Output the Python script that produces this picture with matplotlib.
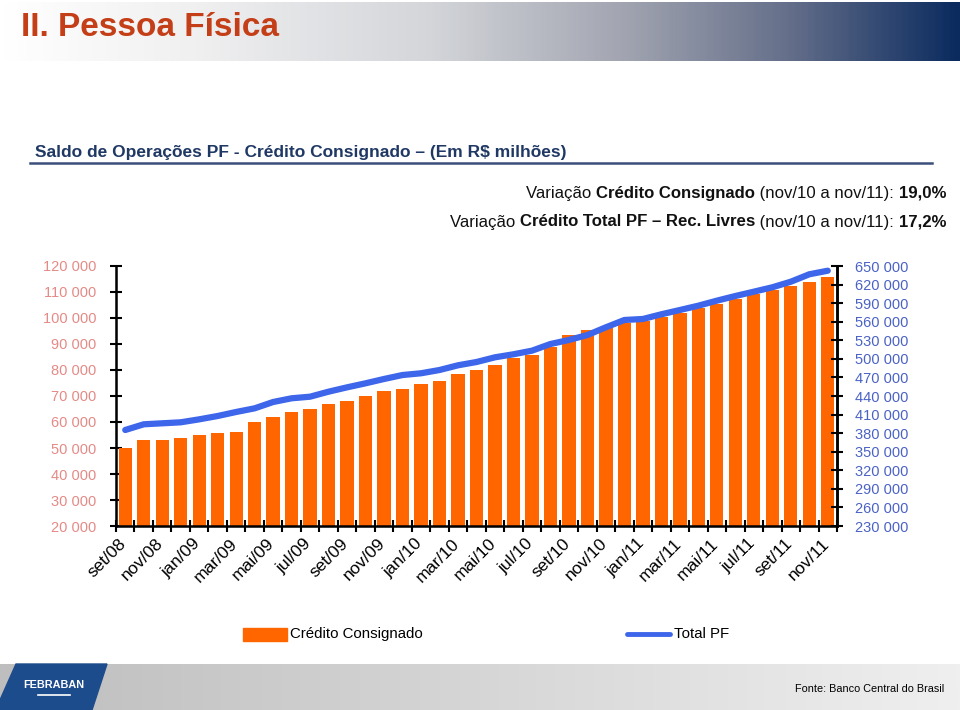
import numpy as np
import matplotlib.pyplot as plt
from matplotlib.colors import LinearSegmentedColormap
from matplotlib.patches import Polygon, Rectangle
from matplotlib.lines import Line2D

## data
months = ["set/08", "out/08", "nov/08", "dez/08", "jan/09", "fev/09", "mar/09", "abr/09",
          "mai/09", "jun/09", "jul/09", "ago/09", "set/09", "out/09", "nov/09", "dez/09",
          "jan/10", "fev/10", "mar/10", "abr/10", "mai/10", "jun/10", "jul/10", "ago/10",
          "set/10", "out/10", "nov/10", "dez/10", "jan/11", "fev/11", "mar/11", "abr/11",
          "mai/11", "jun/11", "jul/11", "ago/11", "set/11", "out/11", "nov/11"]
consignado = [49900, 53000, 53000, 53700, 55000, 55600, 56300, 60000, 61900, 63700,
              64900, 66900, 68200, 70000, 71900, 72600, 74500, 75800, 78300, 80100,
              82000, 84500, 85900, 88700, 93300, 95300, 96300, 97900, 99000, 100500,
              102000, 103700, 105500, 107200, 109100, 110800, 112200, 114000, 115900]
total_pf = [385100, 394300, 395900, 397500, 402300, 407700, 414200, 420100, 430300, 436300,
            438900, 447000, 454000, 460500, 467500, 473900, 476700, 482000, 489600, 494900,
            502500, 507400, 513200, 524000, 530500, 538500, 551000, 562800, 564400, 572000,
            578900, 585900, 594000, 601500, 608500, 615600, 624600, 636600, 642400]
left_ticks = list(range(20000, 120001, 10000))
right_ticks = list(range(230000, 650001, 30000))

sans = ["Liberation Sans", "DejaVu Sans"]

W, H = 960, 710
fig = plt.figure(figsize=(9.6, 7.1), dpi=100)

def fx(x):
    return x / W

def fy(y):
    return 1 - y / H

## header band
hdr = fig.add_axes([0, fy(61), 1, 59 / H])
hdr_cmap = LinearSegmentedColormap.from_list(
    "hdr", [(0, "#FFFFFF"), (0.2, "#F0F0F1"), (0.45, "#D3D5D9"), (0.65, "#A2A5B1"),
            (0.82, "#66708B"), (1, "#0B2B5F")])
hdr.imshow(np.linspace(0, 1, 400).reshape(1, -1), aspect="auto", cmap=hdr_cmap,
           extent=[0, 1, 0, 1])
hdr.axis("off")
fig.text(fx(21), fy(28), "II. Pessoa Física", color="#C43F17", fontsize=24,
         fontweight="bold", family=sans, va="center", ha="left")

## subtitle + rule
fig.text(fx(35), fy(153), "Saldo de Operações PF - Crédito Consignado – (Em R$ milhões)",
         color="#1F3864", fontsize=12.5, fontweight="bold", family=sans, va="center")
fig.add_artist(Line2D([fx(30), fx(932)], [fy(163), fy(163)], color="#3B4F7A", lw=1.8))

## variation lines, built right to left
fig.canvas.draw()
renderer = fig.canvas.get_renderer()

def rich_right(x_right, y, parts, size=12.1):
    x = x_right
    for txt, bold in reversed(parts):
        t = fig.text(fx(x), fy(y), txt, fontsize=size, family=sans,
                     fontweight="bold" if bold else "normal", ha="right", va="center",
                     color="#111111")
        bb = t.get_window_extent(renderer)
        x -= bb.width

rich_right(946, 193, [("Variação ", False), ("Crédito Consignado", True),
                      (" (nov/10 a nov/11): ", False), ("19,0%", True)])
rich_right(946, 222, [("Variação ", False), ("Crédito Total PF – Rec. Livres", True),
                      (" (nov/10 a nov/11): ", False), ("17,2%", True)])

## main chart
ax = fig.add_axes([fx(116), fy(526), fx(837) - fx(116), (526 - 266) / H])
x = np.arange(len(months))
ax.bar(x, consignado, width=0.72, color="#FF6600", zorder=2)
ax.set_xlim(-0.5, len(months) - 0.5)
ax.set_ylim(20000, 120000)
ax.set_yticks(left_ticks)
ax.set_yticklabels([f"{v:,}".replace(",", " ") for v in left_ticks])
ax.tick_params(axis="y", direction="inout", length=8, width=1.5, colors="black",
               labelcolor="#E58A86", labelsize=10.5, pad=10)
for lab in ax.get_yticklabels():
    lab.set_family(sans)
ax.set_xticks(np.arange(-0.5, len(months), 1.0))
ax.set_xticklabels([])
ax.tick_params(axis="x", direction="inout", length=8, width=1.5)
for i in range(0, len(months), 2):
    ax.text(i - 0.35, 16200, months[i], rotation=45, ha="right", va="top",
            rotation_mode="anchor", fontsize=12.5, family=sans, transform=ax.transData,
            clip_on=False)
ax.spines["top"].set_visible(False)
for s in ["left", "bottom", "right"]:
    ax.spines[s].set_linewidth(1.8)

ax2 = ax.twinx()
ax2.plot(x, total_pf, color="#3D66EA", lw=4.5, solid_capstyle="round", zorder=3)
ax2.set_ylim(230000, 650000)
ax2.set_yticks(right_ticks)
ax2.set_yticklabels([f"{v:,}".replace(",", " ") for v in right_ticks])
ax2.tick_params(axis="y", direction="inout", length=8, width=1.5, colors="black",
                labelcolor="#4A62C6", labelsize=10.5, pad=9)
for lab in ax2.get_yticklabels():
    lab.set_family(sans)
ax2.spines["top"].set_visible(False)
ax2.spines["right"].set_linewidth(1.8)

## legend
fig.add_artist(Rectangle((fx(243), fy(641)), fx(44), 13 / H, color="#FF6600"))
fig.text(fx(290), fy(634), "Crédito Consignado", fontsize=10.8, family=sans, va="center")
fig.add_artist(Line2D([fx(627), fx(670)], [fy(634), fy(634)], color="#3D66EA", lw=3.5,
                      solid_capstyle="round"))
fig.text(fx(674), fy(634), "Total PF", fontsize=10.8, family=sans, va="center")

## footer
ftr = fig.add_axes([0, 0, 1, 46 / H])
ftr_cmap = LinearSegmentedColormap.from_list("ftr", ["#BEBEBE", "#D6D6D6", "#EFEFEF"])
ftr.imshow(np.linspace(0, 1, 400).reshape(1, -1), aspect="auto", cmap=ftr_cmap,
           extent=[0, 1, 0, 1])
ftr.axis("off")
fig.add_artist(Polygon([(fx(16), fy(664)), (fx(107), fy(664)), (fx(92), fy(710)),
                        (fx(0), fy(710)), (fx(0), fy(700))], closed=True,
                       color="#1D4C8C"))
fig.text(fx(54), fy(685), "FEBRABAN", color="white", fontsize=7.8, fontweight="bold",
         family=sans, ha="center", va="center")
fig.add_artist(Line2D([fx(38), fx(70)], [fy(695), fy(695)], color="white", lw=1.2))
fig.text(fx(944), fy(689), "Fonte: Banco Central do Brasil", fontsize=7.8, family=sans,
         ha="right", va="center")

fig.savefig("out.png", dpi=100)
